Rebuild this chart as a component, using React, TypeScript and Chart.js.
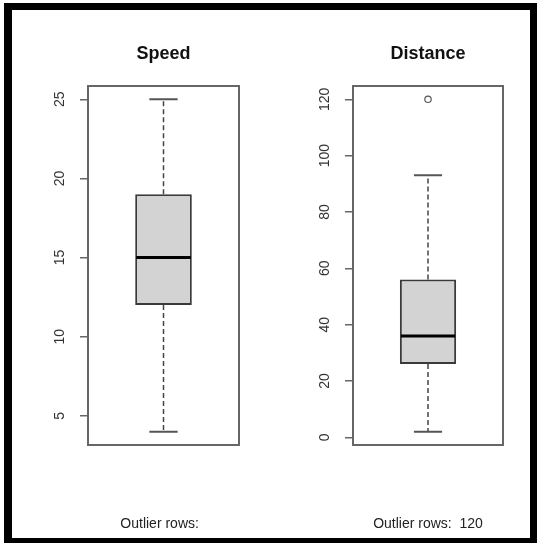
import React, { useEffect, useRef } from "react";
import { Chart, registerables } from "chart.js";

Chart.register(...registerables);
Chart.defaults.font.family = "'Liberation Sans', Arial, sans-serif";

// Five-number summaries: lower whisker, Q1, median, Q3, upper whisker
const speedStats = [4, 12, 15, 19, 25];
const distanceStats = [2, 26, 36, 56, 93];

// Points beyond the whiskers
const speedOutliers: number[] = [];
const distanceOutliers = [120];

// Labels listed under each panel
const speedOutlierLabels: string[] = [];
const distanceOutlierLabels = ["120"];

// Y-axis tick values
const speedTicks = [5, 10, 15, 20, 25];
const distanceTicks = [0, 20, 40, 60, 80, 100, 120];

const CANVAS_H = 543;

// Dashed whiskers, staples, median and the plot frame, placed through the chart's scales
const boxWhiskers = {
  id: "boxWhiskers",
  afterDatasetsDraw(chart: any, _args: any, opts: any) {
    const stats: number[] = opts.stats;
    const { ctx } = chart;
    const y = chart.scales.y;
    const bar = chart.getDatasetMeta(0).data[0];
    if (!bar) return;
    const cx = bar.x;
    const half = bar.width / 2;
    const [lo, q1, med, q3, hi] = stats.map((v) => y.getPixelForValue(v));
    ctx.save();
    // whiskers
    ctx.strokeStyle = "#444";
    ctx.lineWidth = 1.5;
    ctx.setLineDash([5, 3]);
    ctx.beginPath();
    ctx.moveTo(cx, q3);
    ctx.lineTo(cx, hi);
    ctx.moveTo(cx, q1);
    ctx.lineTo(cx, lo);
    ctx.stroke();
    ctx.setLineDash([]);
    // staples
    ctx.strokeStyle = "#555";
    ctx.lineWidth = 2;
    ctx.beginPath();
    ctx.moveTo(cx - half / 2, hi);
    ctx.lineTo(cx + half / 2, hi);
    ctx.moveTo(cx - half / 2, lo);
    ctx.lineTo(cx + half / 2, lo);
    ctx.stroke();
    // median
    ctx.strokeStyle = "#000";
    ctx.lineWidth = 3;
    ctx.beginPath();
    ctx.moveTo(cx - half + 1, med);
    ctx.lineTo(cx + half - 1, med);
    ctx.stroke();
    ctx.restore();
  },
  afterDraw(chart: any) {
    const { ctx, chartArea: a } = chart;
    ctx.save();
    ctx.strokeStyle = "#666";
    ctx.lineWidth = 2;
    ctx.strokeRect(a.left, a.top, a.right - a.left, a.bottom - a.top);
    ctx.restore();
  },
};

type PanelProps = {
  title: string;
  stats: number[];
  outliers: number[];
  outlierLabels: string[];
  ticks: number[];
  left: number;
  width: number;
  axisWidth: number;
  rightPad: number;
  labelPad: number;
};

function BoxPanel(p: PanelProps) {
  const ref = useRef<HTMLCanvasElement>(null);

  useEffect(() => {
    const lo = Math.min(p.stats[0], ...p.outliers);
    const hi = Math.max(p.stats[4], ...p.outliers);
    const ext = (hi - lo) * 0.04;
    const caption = "Outlier rows: " + " " + p.outlierLabels.join(" ");

    const chart = new Chart(ref.current as HTMLCanvasElement, {
      type: "bar",
      data: {
        labels: [p.title],
        datasets: [
          {
            type: "bar",
            data: [[p.stats[1], p.stats[3]]] as any,
            backgroundColor: "#d3d3d3",
            borderColor: "#3a3a3a",
            borderWidth: 2,
            borderSkipped: false,
            barPercentage: 0.375,
            categoryPercentage: 1,
            order: 2,
          },
          {
            type: "line",
            data: p.outliers.map((v) => ({ x: p.title, y: v })) as any,
            showLine: false,
            pointRadius: 3.2,
            pointBorderWidth: 1.2,
            pointBorderColor: "#555",
            pointBackgroundColor: "rgba(0,0,0,0)",
            order: 1,
          },
        ],
      },
      options: {
        animation: false,
        responsive: false,
        events: [],
        layout: { padding: { left: 0, right: p.rightPad, top: 0, bottom: 0 } },
        plugins: {
          legend: { display: false },
          tooltip: { enabled: false },
          title: {
            display: true,
            text: p.title,
            fullSize: false,
            color: "#111",
            font: { size: 18, weight: "bold" },
            padding: { top: 43, bottom: 21.4 },
          },
          boxWhiskers: { stats: p.stats },
        } as any,
        scales: {
          x: {
            type: "category",
            offset: true,
            grid: { display: false },
            border: { display: false },
            ticks: { display: false },
            title: {
              display: true,
              text: caption,
              color: "#222",
              font: { size: 14 },
              padding: { top: 0, bottom: 10 },
            },
            afterFit: (s: any) => {
              s.height = 98;
            },
          },
          y: {
            type: "linear",
            min: lo - ext,
            max: hi + ext,
            afterBuildTicks: (s: any) => {
              s.ticks = p.ticks.map((v) => ({ value: v }));
            },
            ticks: {
              minRotation: 90,
              maxRotation: 90,
              crossAlign: "center",
              padding: p.labelPad,
              color: "#333",
              font: { size: 14 },
            },
            grid: {
              drawOnChartArea: false,
              tickLength: 8,
              color: "#666",
              lineWidth: 1.5,
            },
            border: { display: false },
            afterFit: (s: any) => {
              s.width = p.axisWidth;
            },
          },
        },
      },
      plugins: [boxWhiskers],
    });
    return () => chart.destroy();
  }, []);

  return (
    <canvas
      ref={ref}
      width={p.width}
      height={CANVAS_H}
      style={{ position: "absolute", left: p.left, top: 0, width: p.width, height: CANVAS_H }}
    />
  );
}

export default function App() {
  useEffect(() => {
    document.body.style.margin = "0";
  }, []);

  return (
    <div style={{ position: "relative", width: 540, height: CANVAS_H, background: "#fff", overflow: "hidden" }}>
      <div
        style={{
          position: "absolute",
          left: 4,
          top: 3,
          width: 533,
          height: 541,
          boxSizing: "border-box",
          borderStyle: "solid",
          borderColor: "#000",
          borderWidth: "7px 7px 6px 8px",
        }}
      />
      <BoxPanel
        title="Speed"
        stats={speedStats}
        outliers={speedOutliers}
        outlierLabels={speedOutlierLabels}
        ticks={speedTicks}
        left={0}
        width={270}
        axisWidth={88}
        rightPad={31}
        labelPad={12}
      />
      <BoxPanel
        title="Distance"
        stats={distanceStats}
        outliers={distanceOutliers}
        outlierLabels={distanceOutlierLabels}
        ticks={distanceTicks}
        left={270}
        width={270}
        axisWidth={83}
        rightPad={37}
        labelPad={8}
      />
    </div>
  );
}
